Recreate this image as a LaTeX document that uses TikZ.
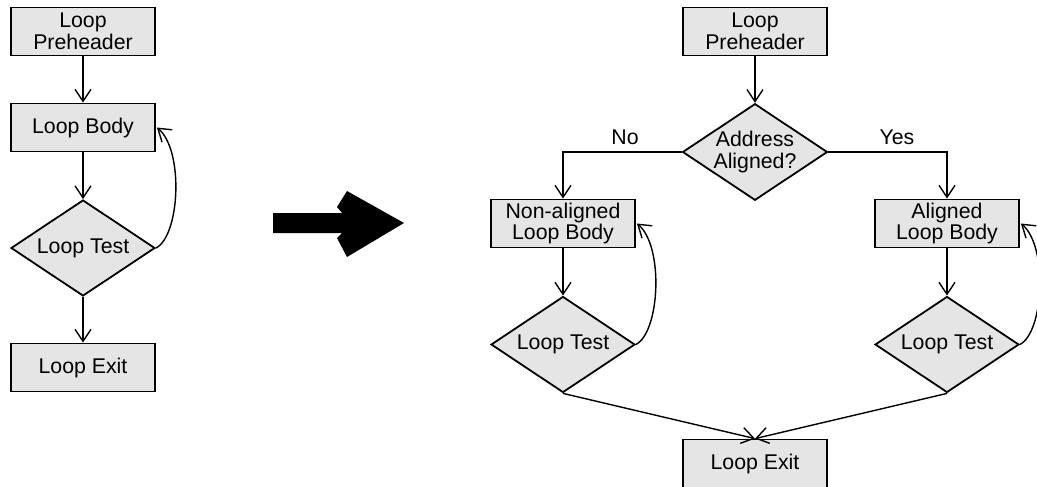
\documentclass[tikz,border=0pt]{standalone}
\usepackage{fontspec}
\setmainfont{Liberation Sans}
\usetikzlibrary{shapes.geometric,arrows.meta}
\tikzset{
  box/.style={draw=black, line width=1.8pt, fill=black!10, rectangle, minimum width=144pt, minimum height=48pt, inner sep=0pt, align=center, font=\fontsize{21.3}{21.5}\selectfont},
  test/.style={draw=black, line width=1.8pt, fill=black!10, diamond, minimum width=144pt, minimum height=96pt, inner sep=0pt, aspect=1.5, align=center, font=\fontsize{21.3}{21.5}\selectfont},
  lbl/.style={font=\fontsize{21.3}{21.5}\selectfont, inner sep=0pt},
  conn/.style={line width=1.4pt, -{Straight Barb[length=12pt,width=16pt,line width=1.4pt]}},
  bigarrow/.style={fill=black, draw=none}
}
\begin{document}
\begin{tikzpicture}[x=1pt,y=-1pt]
\useasboundingbox (0,0) rectangle (1037,487);
% left flow
\node[box]  (pre1)  at (83,31.5)  {Loop\\Preheader};
\node[box]  (body1) at (83,127.5) {Loop Body};
\node[test] (test1) at (83,248)   {Loop Test};
\node[box]  (exit1) at (83,367.5) {Loop Exit};
\draw[conn] (pre1.south) -- (body1.north);
\draw[conn] (body1.south) -- (test1.north);
\draw[conn] (test1.south) -- (exit1.north);
\draw[conn] (test1.east) .. controls (180,236) and (184,150) .. ([xshift=1pt]body1.east);
% big arrow
\fill[bigarrow] (273,213) -- (342,213) -- (337,207) -- (347,191) -- (404,223) -- (347,257) -- (337,238) -- (342,233) -- (273,233) -- cycle;
% right flow
\node[box]  (pre2)   at (755,31.5)  {Loop\\Preheader};
\node[test] (addr)   at (755,152)   {Address\\Aligned?};
\node[box]  (nabody) at (563,223.5) {Non-aligned\\Loop Body};
\node[test] (natest) at (563,344.5) {Loop Test};
\node[box]  (albody) at (947,223.5) {Aligned\\Loop Body};
\node[test] (altest) at (947,344.5) {Loop Test};
\node[box]  (exit2)  at (755,463.5) {Loop Exit};
\node[lbl]  (no)  at (625,137) {No};
\node[lbl]  (yes) at (897,137) {Yes};
\draw[conn] (pre2.south) -- (addr.north);
\draw[conn] (addr.west) -| (nabody.north);
\draw[conn] (addr.east) -| (albody.north);
\draw[conn] (nabody.south) -- (natest.north);
\draw[conn] (albody.south) -- (altest.north);
\draw[conn] (natest.east) .. controls (660,332) and (664,246) .. ([xshift=1pt]nabody.east);
\draw[conn] (altest.east) .. controls (1044,332) and (1048,246) .. ([xshift=1pt]albody.east);
\draw[conn] (natest.south) -- (exit2.north);
\draw[conn] (altest.south) -- (exit2.north);
\end{tikzpicture}
\end{document}
